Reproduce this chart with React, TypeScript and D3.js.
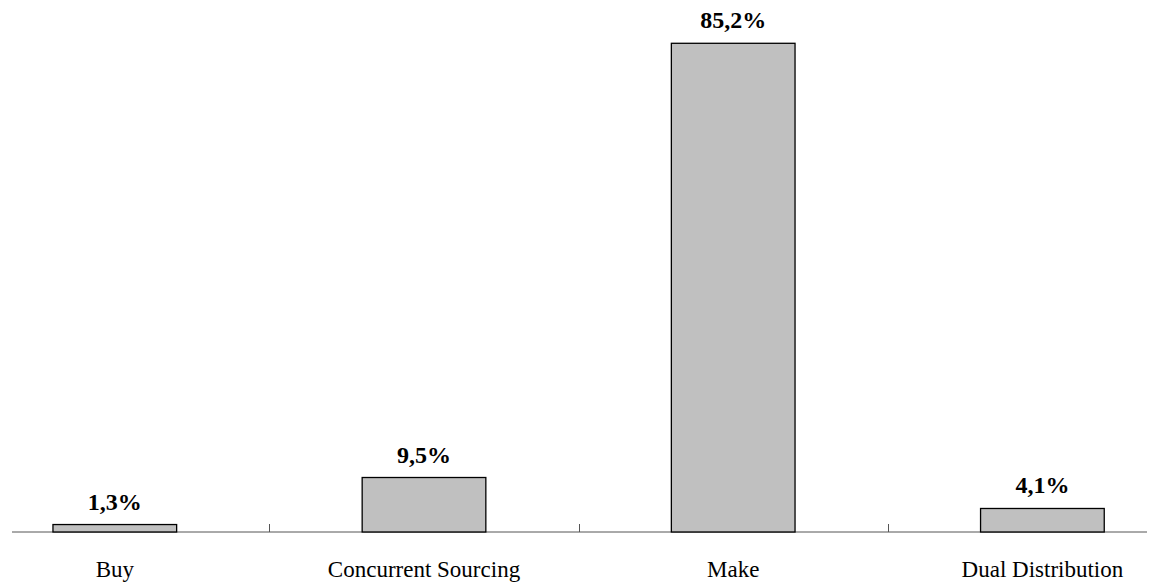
import React from "react";
import * as d3 from "d3";

const categories = ["Buy", "Concurrent Sourcing", "Make", "Dual Distribution"];
const shares = [1.3, 9.5, 85.2, 4.1];

const W = 1152;
const H = 582;
const baseY = 532;
const FONT = "'Liberation Serif', 'Times New Roman', Times, serif";

const fmt = (v: number) => v.toFixed(1).replace(".", ",") + "%";

export default function App() {
  const step = 309.2;
  const x0 = -39.8;
  const x = d3
    .scaleBand<string>()
    .domain(categories)
    .range([x0, x0 + step * categories.length])
    .padding(0);
  const y = d3.scaleLinear().domain([0, 100]).range([baseY, -41.6]);
  const bw = x.bandwidth();
  const barW = bw * 0.4;

  return (
    <svg
      width={W}
      height={H}
      style={{ position: "absolute", left: 0, top: 0, background: "#fff" }}
    >
      {/* axis line */}
      <line x1={12} x2={1147} y1={baseY} y2={baseY} stroke="#555" strokeWidth={1} />
      {/* category separators */}
      {categories.slice(1).map((c) => (
        <line
          key={"t" + c}
          x1={Math.round(x(c)!) + 0.5}
          x2={Math.round(x(c)!) + 0.5}
          y1={baseY - 8}
          y2={baseY}
          stroke="#555"
          strokeWidth={1}
        />
      ))}
      {categories.map((c, i) => {
        const cx = x(c)! + bw / 2;
        const v = shares[i];
        return (
          <g key={c}>
            <rect
              x={cx - barW / 2}
              y={y(v)}
              width={barW}
              height={baseY - y(v)}
              fill="#c0c0c0"
              stroke="#000"
              strokeWidth={1.3}
            />
            <text
              x={cx}
              y={y(v) - 15}
              textAnchor="middle"
              fontFamily={FONT}
              fontWeight="bold"
              fontSize={24}
              fill="#000"
            >
              {fmt(v)}
            </text>
            <text
              x={cx}
              y={577}
              textAnchor="middle"
              fontFamily={FONT}
              fontSize={23}
              fill="#000"
            >
              {c}
            </text>
          </g>
        );
      })}
    </svg>
  );
}
